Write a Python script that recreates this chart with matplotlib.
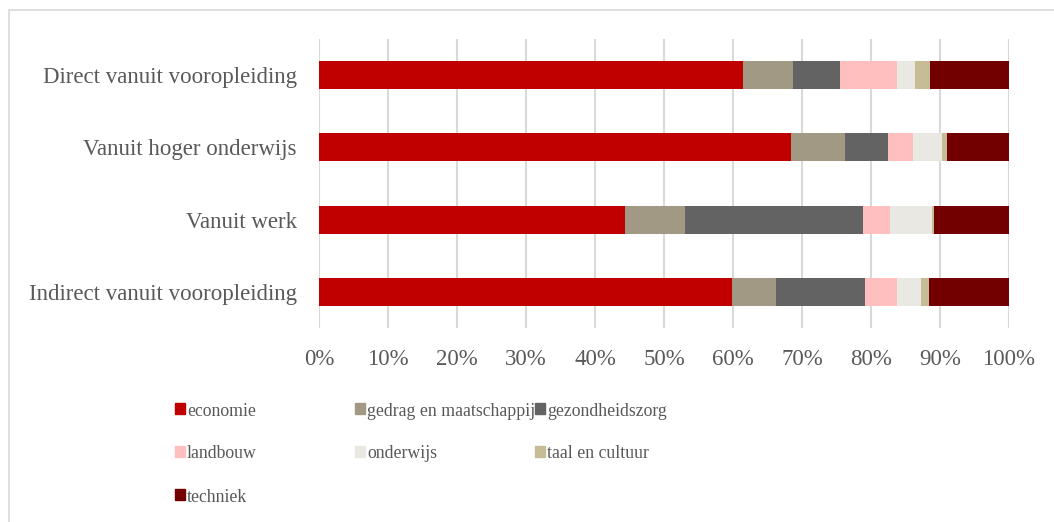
import matplotlib
matplotlib.use("Agg")
import matplotlib.pyplot as plt
from matplotlib.patches import Rectangle

categories = ["Direct vanuit vooropleiding", "Vanuit hoger onderwijs",
              "Vanuit werk", "Indirect vanuit vooropleiding"]
series = ["economie", "gedrag en maatschappij", "gezondheidszorg",
          "landbouw", "onderwijs", "taal en cultuur", "techniek"]
colors = ["#c00000", "#a29985", "#636363", "#ffbfbf", "#e9e8e3", "#c6bd97", "#720000"]

# percentages per category (same order as categories)
economie = [61.5, 68.4, 44.4, 59.9]
gedrag = [7.2, 7.9, 8.6, 6.4]
gezondheid = [6.8, 6.1, 25.9, 12.9]
landbouw = [8.3, 3.7, 3.9, 4.6]
onderwijs = [2.6, 4.2, 6.1, 3.4]
taal = [2.2, 0.7, 0.3, 1.2]
techniek = [11.4, 9.0, 10.8, 11.6]
values = [economie, gedrag, gezondheid, landbouw, onderwijs, taal, techniek]

xticks = [0, 10, 20, 30, 40, 50, 60, 70, 80, 90, 100]

plt.rcParams['font.family'] = ['Liberation Serif', 'DejaVu Serif']
txt = "#595959"
W, H = 1054, 522

fig = plt.figure(figsize=(W/100, H/100), dpi=100)
ax = fig.add_axes([319/W, 1-328/H, 690/W, 289/H])

ypos = list(range(len(categories)))[::-1]
left = [0]*len(categories)
for name, vals, c in zip(series, values, colors):
    ax.barh(ypos, vals, left=left, height=0.39, color=c, label=name, zorder=3)
    left = [l+v for l, v in zip(left, vals)]

ax.set_xlim(0, 100)
ax.set_ylim(-0.5, 3.5)
ax.set_xticks(xticks)
ax.set_xticklabels([f"{t}%" for t in xticks], fontsize=16.5, color=txt)
ax.set_yticks(ypos)
ax.set_yticklabels(categories, fontsize=16.5, color=txt)
ax.tick_params(axis='x', length=0, pad=15)
ax.tick_params(axis='y', length=0, pad=16)
ax.grid(axis='x', color="#d9d9d9", linewidth=1.5, zorder=0)
for s in ax.spines.values():
    s.set_visible(False)

# legend, laid out like the excel one: 3 fixed-width columns
for i, (name, c) in enumerate(zip(series, colors)):
    row, col = divmod(i, 3)
    x0 = 175 + col*180
    yc = 408 + row*43
    fig.patches.append(Rectangle((x0/W, 1-(yc+6)/H), 10/W, 11/H,
                                 transform=fig.transFigure, color=c))
    fig.text((x0+12)/W, 1-(yc+1)/H, name, fontsize=12.8, color=txt,
             va='center_baseline', ha='left')

fig.patches.append(Rectangle((8.5/W, -0.1), 1.2, 1-9.5/H+0.1, transform=fig.transFigure,
                             fill=False, edgecolor="#d9d9d9", linewidth=1.2))

fig.savefig("out.png", dpi=100)
